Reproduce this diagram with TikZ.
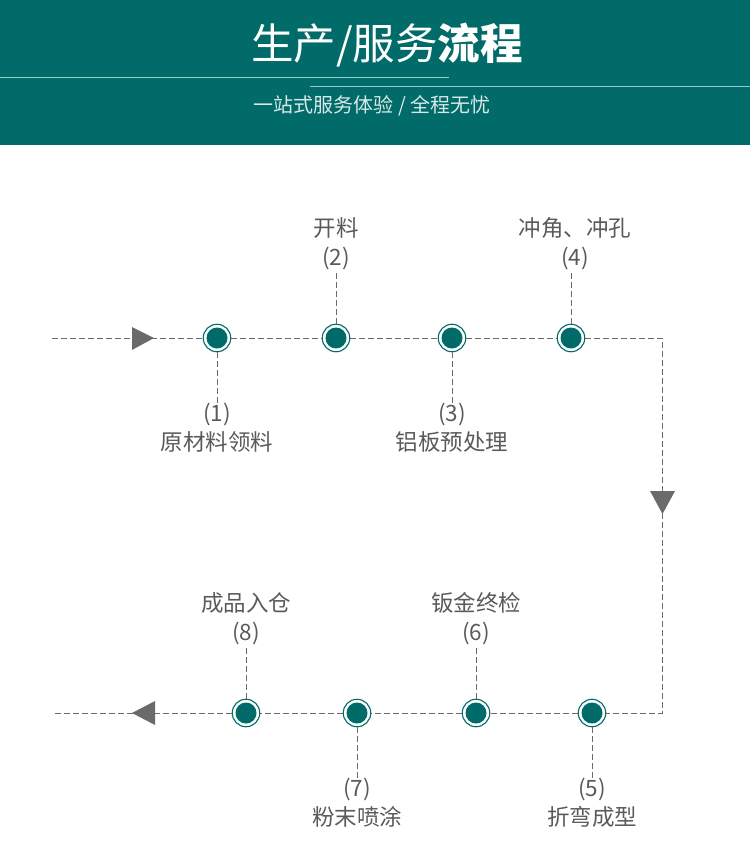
\documentclass[tikz,border=0pt]{standalone}
\usepackage{fontspec}
\setmainfont{Noto Sans CJK SC}
\definecolor{bandteal}{HTML}{006B68}
\definecolor{rulelight}{HTML}{9CC8C5}
\definecolor{subwhite}{HTML}{D9E9E8}
\definecolor{labelgray}{HTML}{5A5A5A}
\definecolor{dashgray}{HTML}{6A6A6A}

\begin{document}
\begin{tikzpicture}[
    x=1pt, y=-1pt,
    every node/.style={font=\fontsize{22.5}{29}\selectfont, text=labelgray},
    ring/.style={circle, draw=bandteal, line width=1.1pt, fill=white, minimum size=27.5pt, inner sep=0pt},
    core/.style={circle, fill=bandteal, minimum size=21pt, inner sep=0pt},
    lbl/.style={align=center, inner sep=0pt},
    flow/.style={draw=dashgray, line width=1pt, dash pattern=on 6pt off 3pt},
    stem/.style={flow},
    tip/.style={fill=dashgray},
    headrule/.style={draw=rulelight, line width=1pt},
]
\useasboundingbox (0,0) rectangle (750,851);
% Header band
\fill[bandteal] (0,0) rectangle (750,145);
\node[text=white, font=\fontsize{42.5}{42}\selectfont] (title) at (387,45) {生产/服务\textbf{流程}};
\draw[headrule] (0,77) -- (449,77);
\draw[headrule] (310,86) -- (750,86);
\node[text=subwhite, font=\fontsize{20}{20}\selectfont] (subtitle) at (372,106) {一站式服务体验 / 全程无忧};

% Stations
\node[ring] (s1) at (217,338) {}; \node[core] at (s1) {};
\node[ring] (s2) at (336,338) {}; \node[core] at (s2) {};
\node[ring] (s3) at (452,338) {}; \node[core] at (s3) {};
\node[ring] (s4) at (571,338) {}; \node[core] at (s4) {};
\node[ring] (s5) at (592,713) {}; \node[core] at (s5) {};
\node[ring] (s6) at (476,713) {}; \node[core] at (s6) {};
\node[ring] (s7) at (357,713) {}; \node[core] at (s7) {};
\node[ring] (s8) at (246,713) {}; \node[core] at (s8) {};

% Flow line
\coordinate (in)  at (52,338);
\coordinate (c1)  at (662,338);
\coordinate (c2)  at (662,713);
\coordinate (out) at (52,713);
\draw[flow] (in) -- (s1) -- (s2) -- (s3) -- (s4) -- (c1) -- (c2)
  -- (s5) -- (s6) -- (s7) -- (s8) -- (out);
\fill[tip] (132,327) -- (154,338) -- (132,350) -- cycle;
\fill[tip] (650,491) -- (675,491) -- (662.5,514) -- cycle;
\fill[tip] (155,701) -- (132,713) -- (155,725) -- cycle;

% Labels, top row
\node[lbl, anchor=north] (l1) at (217,403) {(1)\\原材料领料};
\node[lbl, anchor=south] (l2) at (336,270) {开料\\(2)};
\node[lbl, anchor=north] (l3) at (452,403) {(3)\\铝板预处理};
\node[lbl, anchor=south] (l4) at (575,270) {冲角、冲孔\\(4)};
% Labels, bottom row
\node[lbl, anchor=north] (l5) at (592,778) {(5)\\折弯成型};
\node[lbl, anchor=south] (l6) at (476,645) {钣金终检\\(6)};
\node[lbl, anchor=north] (l7) at (357,778) {(7)\\粉末喷涂};
\node[lbl, anchor=south] (l8) at (246,645) {成品入仓\\(8)};

% Stems
\draw[stem] (s1) -- (s1 |- l1.north);
\draw[stem] (s2) -- (s2 |- l2.south);
\draw[stem] (s3) -- (s3 |- l3.north);
\draw[stem] (s4) -- (s4 |- l4.south);
\draw[stem] (s5) -- (s5 |- l5.north);
\draw[stem] (s6) -- (s6 |- l6.south);
\draw[stem] (s7) -- (s7 |- l7.north);
\draw[stem] (s8) -- (s8 |- l8.south);
\end{tikzpicture}
\end{document}
